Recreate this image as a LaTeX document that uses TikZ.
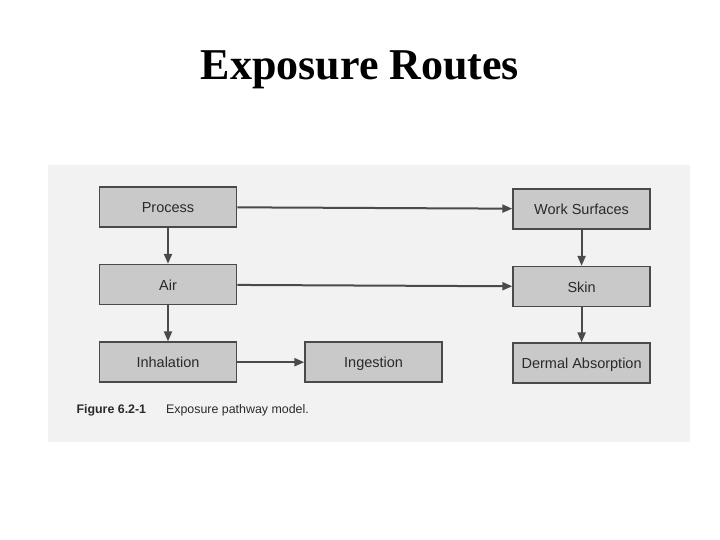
\documentclass[tikz,border=0pt]{standalone}
\usepackage{fontspec}
\setmainfont{Liberation Serif}
\newfontfamily\figfont{Liberation Sans}
\usepackage{xcolor}
\usepackage{tikz}
\usetikzlibrary{arrows.meta, positioning}

\definecolor{scangray}{HTML}{F2F2F2}
\definecolor{boxgray}{HTML}{C9C9C9}
\definecolor{linegray}{HTML}{4A4A4A}
\definecolor{inkgray}{HTML}{2A2A2A}

\begin{document}
\begin{tikzpicture}[
  x=1pt, y=-1pt,
  pathbox/.style={rectangle, draw=linegray, line width=1.6pt, fill=boxgray, minimum width=137pt, minimum height=40pt, inner sep=0pt, text height=13pt, text depth=1.5pt, text=inkgray, font=\figfont\fontsize{14.5}{16}\selectfont},
  arrow/.style={-{Triangle[length=10pt, width=8pt]}, line width=2pt, draw=linegray, fill=linegray}
]

\useasboundingbox (0,0) rectangle (720,540);
\fill[white] (0,0) rectangle (720,540);

% scanned page
\fill[scangray] (48,165) rectangle (690,442);

% Title
\node[anchor=base, font=\bfseries\fontsize{44}{48}\selectfont] (title) at (360,80) {Exposure Routes};

% Boxes
\node[pathbox] (process) at (168,207) {Process};
\node[pathbox, below=36pt of process] (air) {Air};
\node[pathbox, below=36pt of air] (inhalation) {Inhalation};
\node[pathbox, right=67pt of inhalation] (ingestion) {Ingestion};
\node[pathbox, right=275pt of process, yshift=-2pt] (work) {Work Surfaces};
\node[pathbox, below=36pt of work] (skin) {Skin};
\node[pathbox, below=35pt of skin] (dermal) {Dermal Absorption};

% Arrows
\foreach \a/\b in {process/work, process/air, air/skin, air/inhalation, inhalation/ingestion, work/skin, skin/dermal}
  \draw[arrow] (\a) -- (\b);

% Caption
\node[anchor=base west, text=inkgray, font=\figfont\fontsize{12.4}{14}\selectfont] (caption) at (73,413) {\textbf{Figure 6.2-1}\hspace{20pt}Exposure pathway model.};

\end{tikzpicture}
\end{document}
